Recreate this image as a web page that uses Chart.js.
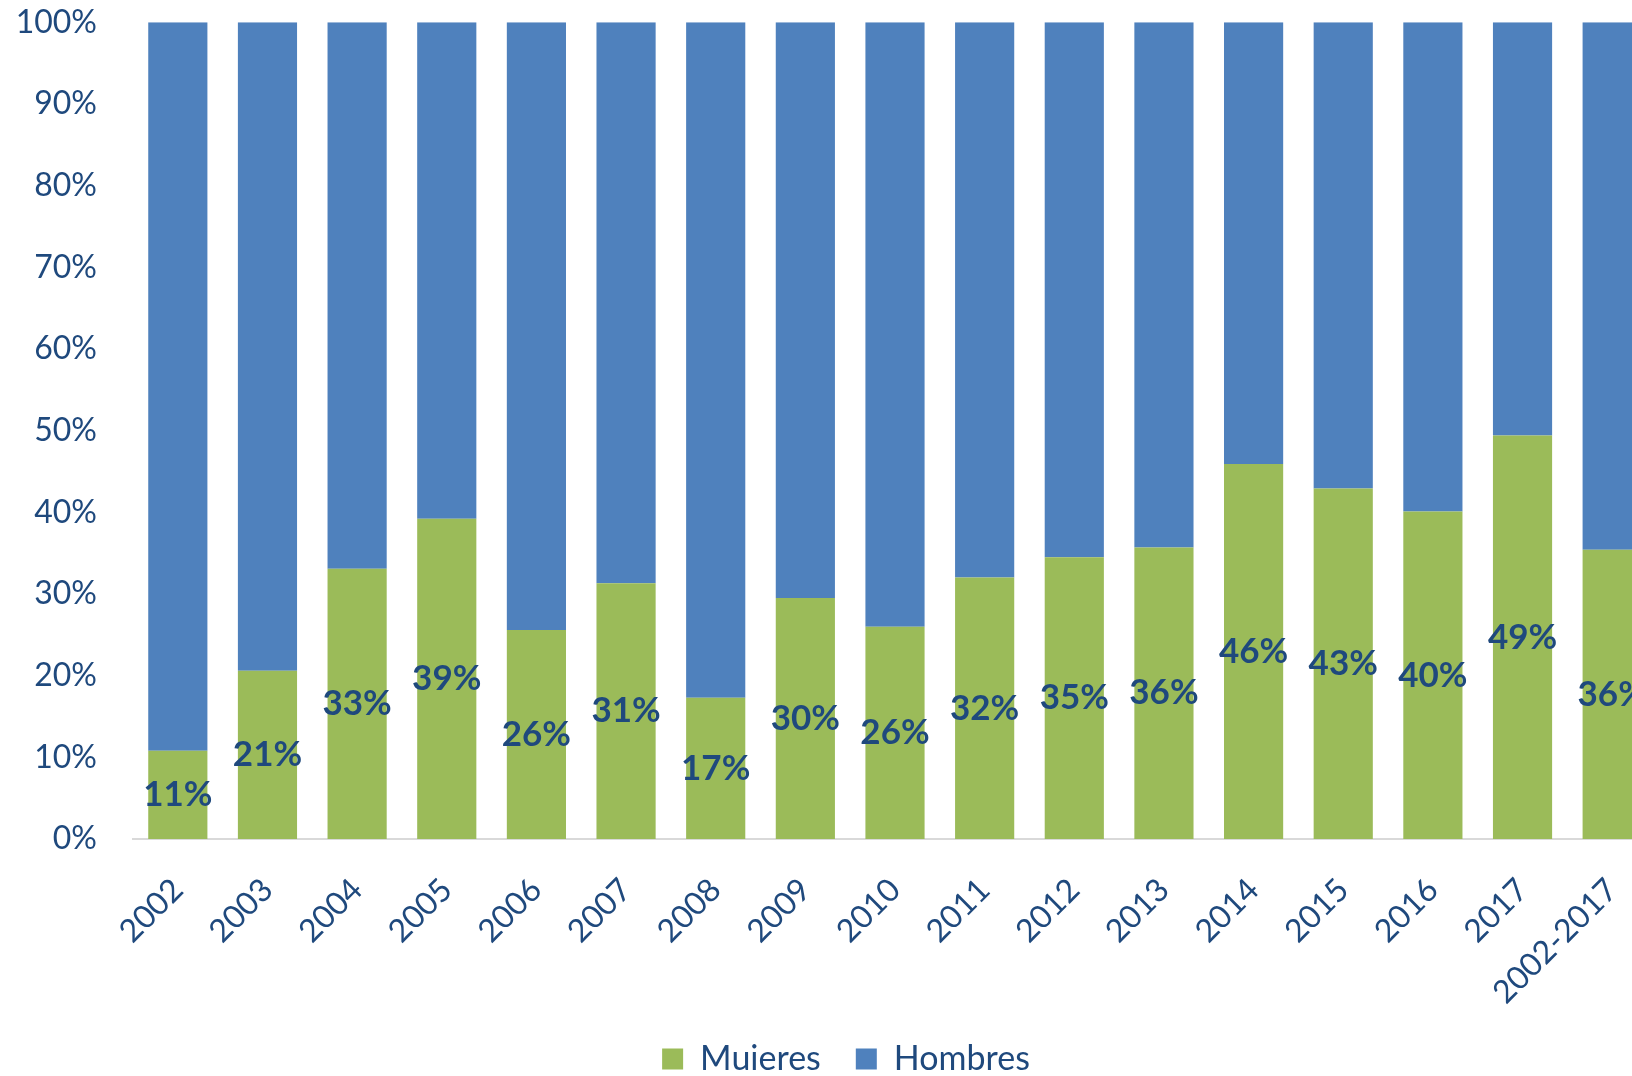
<!DOCTYPE html>
<html>
<head>
<meta charset="utf-8">
<script src="https://cdn.jsdelivr.net/npm/chart.js@4.4.1/dist/chart.umd.min.js"></script>
<style>
  html, body { margin: 0; padding: 0; background: #fff; overflow: hidden; }
  #wrap { position: absolute; left: 0; top: -33px; width: 1692px; height: 1103px; }
</style>
</head>
<body>
<div id="wrap"><canvas id="chart" width="1692" height="1103"></canvas></div>
<script>
// categorías y valores (%)
const years = ["2002", "2003", "2004", "2005", "2006", "2007", "2008", "2009", "2010",
  "2011", "2012", "2013", "2014", "2015", "2016", "2017", "2002-2017"];
const mujeres = [10.8, 20.6, 33.1, 39.2, 25.6, 31.3, 17.3, 29.5, 26.0, 32.0, 34.5, 35.7, 45.9, 42.9, 40.1, 49.4, 35.4];
const hombres = [89.2, 79.4, 66.9, 60.8, 74.4, 68.7, 82.7, 70.5, 74.0, 68.0, 65.5, 64.3, 54.1, 57.1, 59.9, 50.6, 64.6];
const mujeresLabels = ["11%", "21%", "33%", "39%", "26%", "31%", "17%", "30%", "26%", "32%", "35%", "36%", "46%", "43%", "40%", "49%", "36%"];

const textColor = "#1f497d";
const fontFamily = "Lato, 'Open Sans', sans-serif";

// etiquetas de datos centradas en la barra verde
const barLabels = {
  id: "barLabels",
  afterLayout(chart) {
    // centrar la leyenda en la página
    chart.legend.left += 17.5;
    chart.legend.right += 17.5;
  },
  afterDatasetsDraw(chart) {
    const ctx = chart.ctx;
    const meta = chart.getDatasetMeta(0);
    ctx.save();
    ctx.font = "bold 35px " + fontFamily;
    ctx.fillStyle = textColor;
    ctx.textAlign = "center";
    ctx.textBaseline = "middle";
    meta.data.forEach((bar, i) => {
      ctx.fillText(mujeresLabels[i], bar.x, (bar.y + bar.base) / 2);
    });
    ctx.restore();
  }
};

new Chart(document.getElementById("chart"), {
  type: "bar",
  data: {
    labels: years,
    datasets: [
      { label: "Mujeres", data: mujeres, backgroundColor: "#9bbb59" },
      { label: "Hombres", data: hombres, backgroundColor: "#4f81bd" }
    ]
  },
  options: {
    responsive: false,
    animation: false,
    layout: { padding: { top: 0, right: 35, left: 0, bottom: -16 } },
    datasets: { bar: { categoryPercentage: 1, barPercentage: 0.66 } },
    plugins: {
      tooltip: { enabled: false },
      legend: {
        position: "bottom",
        labels: {
          color: textColor,
          font: { family: fontFamily, size: 34 },
          boxWidth: 21,
          boxHeight: 21,
          padding: 35
        }
      }
    },
    scales: {
      x: {
        stacked: true,
        grid: { display: false, drawTicks: false },
        border: { color: "#d9d9d9", width: 2 },
        ticks: {
          color: textColor,
          font: { family: fontFamily, size: 32 },
          minRotation: 45,
          maxRotation: 45,
          padding: 32
        },
        afterFit: s => { s.height = 168; }
      },
      y: {
        stacked: true,
        min: 0,
        max: 100,
        grid: { display: false, drawTicks: false },
        border: { display: false },
        ticks: {
          stepSize: 10,
          color: textColor,
          font: { family: fontFamily, size: 32 },
          padding: 36,
          callback: v => v + "%"
        },
        afterFit: s => { s.width = 133; }
      }
    }
  },
  plugins: [barLabels]
});
</script>
</body>
</html>
